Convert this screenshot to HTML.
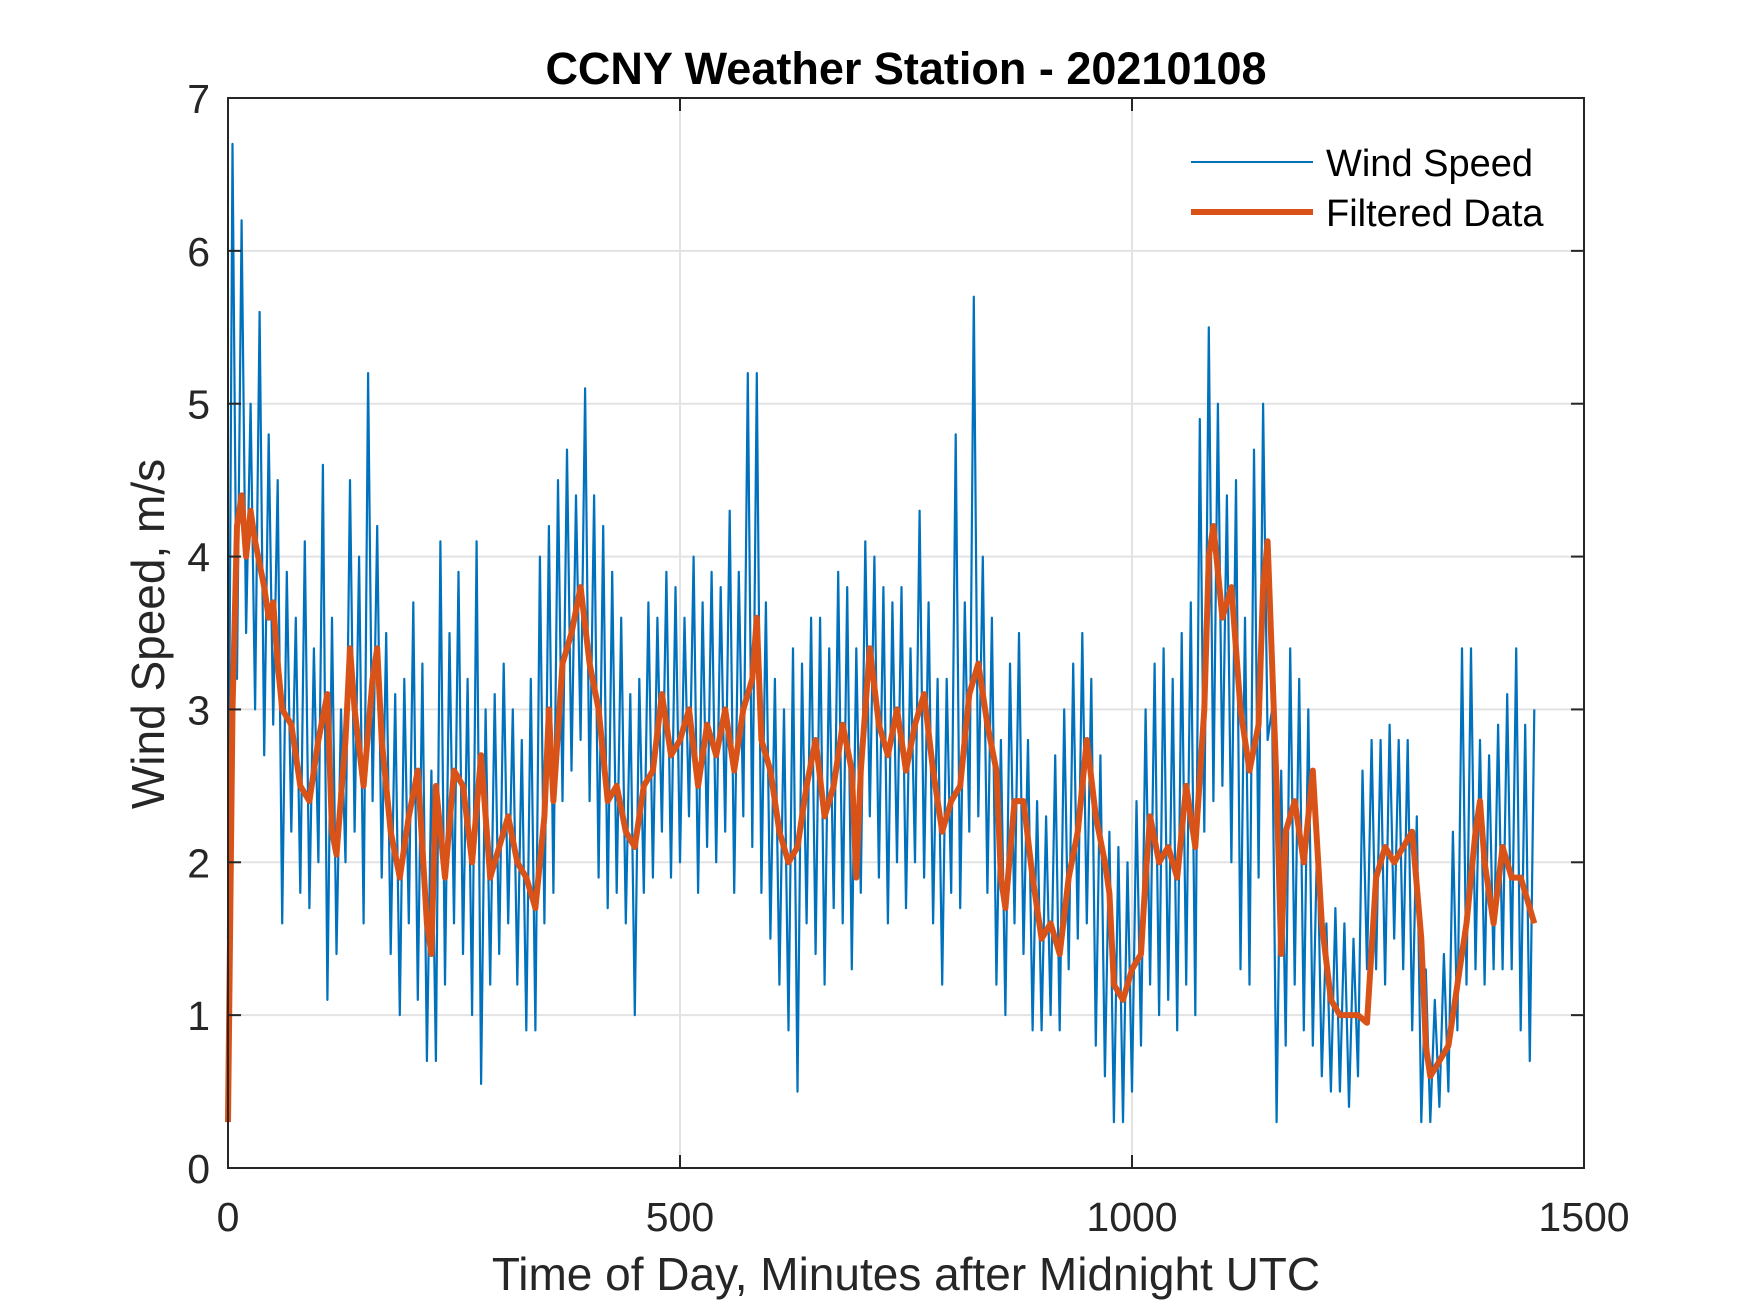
<!DOCTYPE html>
<html><head><meta charset="utf-8"><style>
html,body{margin:0;padding:0;background:#fff;}
svg{display:block;font-family:"Liberation Sans",Arial,sans-serif;}
</style></head><body>
<svg id="chart" width="1750" height="1313" viewBox="0 0 1750 1313" xmlns="http://www.w3.org/2000/svg">
<rect width="1750" height="1313" fill="#fff"/>
<g id="grid"></g>
<g id="series"></g>
<g id="axes"></g>
<text x="906" y="84" text-anchor="middle" font-size="45" font-weight="bold" fill="#000">CCNY Weather Station - 20210108</text>
<text x="906" y="1290" text-anchor="middle" font-size="46" fill="#262626">Time of Day, Minutes after Midnight UTC</text>
<text x="0" y="0" transform="translate(164,634) rotate(-90)" text-anchor="middle" font-size="46" fill="#262626">Wind Speed, m/s</text>
<g>
<line x1="1191" y1="162" x2="1313" y2="162" stroke="#0072BD" stroke-width="2"/>
<text x="1326" y="176" font-size="38" fill="#000">Wind Speed</text>
<line x1="1191" y1="212" x2="1313" y2="212" stroke="#D95319" stroke-width="6"/>
<text x="1326" y="226" font-size="38" fill="#000">Filtered Data</text>
</g>
</svg>
<script>
const xTicks = [0, 500, 1000, 1500];
const yTicks = [0, 1, 2, 3, 4, 5, 6, 7];
const windStep = 5;
const windSpeed = [1.5,6.7,3.2,6.2,3.5,5.0,3.0,5.6,2.7,4.8,2.9,4.5,1.6,3.9,2.2,3.6,1.8,4.1,1.7,3.4,2.0,4.6,1.1,3.6,1.4,3.0,2.0,4.5,2.2,4.0,1.6,5.2,2.4,4.2,1.9,3.5,1.4,3.1,1.0,3.2,1.6,3.7,1.1,3.3,0.7,2.6,0.7,4.1,1.2,3.5,1.6,3.9,1.4,3.2,1.0,4.1,0.55,3.0,1.2,3.1,1.4,3.3,1.6,3.0,1.2,2.8,0.9,3.2,0.9,4.0,1.6,4.2,1.8,4.5,2.4,4.7,2.6,4.4,2.8,5.1,2.4,4.4,1.9,4.2,1.7,3.9,1.8,3.6,1.6,3.1,1.0,3.2,1.8,3.7,1.9,3.6,2.2,3.9,1.9,3.8,2.0,3.6,2.3,4.0,1.8,3.7,2.1,3.9,2.0,3.8,2.2,4.3,1.8,3.9,2.3,5.2,2.1,5.2,1.8,3.7,1.5,3.2,1.2,3.0,0.9,3.4,0.5,3.3,1.6,3.6,1.4,3.6,1.2,3.4,1.7,3.9,1.6,3.8,1.3,3.4,1.8,4.1,2.3,4.0,1.9,3.8,1.6,3.7,2.0,3.8,1.7,3.4,2.0,4.3,1.9,3.7,1.6,3.2,1.2,3.2,1.8,4.8,1.7,3.7,2.2,5.7,2.3,4.0,1.8,3.6,1.2,2.8,1.0,3.3,1.6,3.5,1.4,2.8,0.9,2.4,0.9,2.3,1.0,2.7,0.9,3.0,1.3,3.3,1.5,3.5,1.6,3.2,0.8,2.7,0.6,2.2,0.3,2.1,0.3,2.0,0.5,2.4,0.8,3.0,1.2,3.3,1.0,3.4,1.1,3.2,0.9,3.5,1.2,3.7,1.0,4.9,2.2,5.5,2.4,5.0,2.5,4.4,2.0,4.5,1.3,3.6,1.2,4.7,1.9,5.0,2.8,3.0,0.3,2.6,0.8,3.4,1.2,3.2,0.9,3.0,0.8,2.2,0.6,1.6,0.5,1.7,0.5,1.6,0.4,1.5,0.6,2.6,1.3,2.8,1.3,2.8,1.2,2.9,1.5,2.8,1.3,2.8,0.9,2.3,0.3,1.3,0.3,1.1,0.4,1.4,0.5,2.2,0.9,3.4,1.2,3.4,1.3,2.8,1.2,2.7,1.3,2.9,1.3,3.1,1.3,3.4,0.9,2.9,0.7,3.0];
const filtTime = [0,5,10,15,20,25,30,40,45,50,55,60,70,80,90,100,110,115,120,130,135,140,150,160,165,170,180,190,200,210,220,225,230,240,250,260,270,280,290,300,310,320,330,340,350,355,360,370,380,390,400,410,420,430,440,450,460,470,480,490,500,510,520,530,540,550,560,570,580,585,590,600,610,620,630,640,650,660,670,680,690,695,700,710,720,730,740,750,760,770,780,790,800,810,820,830,840,850,855,860,870,880,890,900,910,920,930,940,950,960,970,975,980,990,1000,1010,1015,1020,1030,1040,1050,1060,1070,1080,1085,1090,1100,1110,1120,1130,1140,1145,1150,1160,1165,1170,1180,1190,1200,1210,1220,1230,1240,1250,1260,1270,1280,1290,1300,1310,1320,1325,1330,1340,1350,1360,1370,1380,1385,1390,1400,1410,1420,1430,1440,1445];
const filtVal = [0.3,3.0,4.2,4.4,4.0,4.3,4.1,3.8,3.6,3.7,3.3,3.0,2.9,2.5,2.4,2.8,3.1,2.2,2.05,2.8,3.4,3.0,2.5,3.2,3.4,2.8,2.2,1.9,2.3,2.6,1.6,1.4,2.5,1.9,2.6,2.5,2.0,2.7,1.9,2.1,2.3,2.0,1.9,1.7,2.3,3.0,2.4,3.3,3.5,3.8,3.3,3.0,2.4,2.5,2.2,2.1,2.5,2.6,3.1,2.7,2.8,3.0,2.5,2.9,2.7,3.0,2.6,3.0,3.2,3.6,2.8,2.6,2.2,2.0,2.1,2.5,2.8,2.3,2.5,2.9,2.6,1.9,2.6,3.4,2.9,2.7,3.0,2.6,2.9,3.1,2.6,2.2,2.4,2.5,3.1,3.3,2.9,2.6,1.9,1.7,2.4,2.4,1.9,1.5,1.6,1.4,1.9,2.2,2.8,2.3,2.0,1.8,1.2,1.1,1.3,1.4,1.9,2.3,2.0,2.1,1.9,2.5,2.1,3.0,4.0,4.2,3.6,3.8,3.0,2.6,2.9,3.8,4.1,2.5,1.4,2.2,2.4,2.0,2.6,1.6,1.1,1.0,1.0,1.0,0.95,1.9,2.1,2.0,2.1,2.2,1.5,0.8,0.6,0.7,0.8,1.2,1.6,2.2,2.4,2.0,1.6,2.1,1.9,1.9,1.7,1.6];

const L=228,R=1584,T=98,B=1168;
const xs = v => L + (v - 0) / 1500 * (R - L);
const ys = v => B - (v - 0) / 7 * (B - T);
const NS="http://www.w3.org/2000/svg";
function mk(tag, attrs, parent){const e=document.createElementNS(NS,tag);for(const k in attrs)e.setAttribute(k,attrs[k]);parent.appendChild(e);return e;}
const grid=document.getElementById('grid'), axes=document.getElementById('axes'), series=document.getElementById('series');

xTicks.forEach(t=>{
  const x=xs(t);
  if(t>0&&t<1500){const g=mk('line',{x1:x,y1:T,x2:x,y2:B,stroke:'#e3e3e3','stroke-width':2},grid);
  
  }
  mk('line',{x1:x,y1:B,x2:x,y2:B-13,stroke:'#262626','stroke-width':2},axes);
  mk('line',{x1:x,y1:T,x2:x,y2:T+13,stroke:'#262626','stroke-width':2},axes);
  const lb=mk('text',{x:x,y:1231,'text-anchor':'middle','font-size':41,fill:'#262626'},axes);
  lb.textContent=t;
  
  
});
yTicks.forEach(t=>{
  const y=ys(t);
  if(t>0&&t<7){const g=mk('line',{x1:L,y1:y,x2:R,y2:y,stroke:'#e3e3e3','stroke-width':2},grid);
  
  }
  mk('line',{x1:L,y1:y,x2:L+13,y2:y,stroke:'#262626','stroke-width':2},axes);
  mk('line',{x1:R,y1:y,x2:R-13,y2:y,stroke:'#262626','stroke-width':2},axes);
  const lb=mk('text',{x:210,y:y+15,'text-anchor':'end','font-size':41,fill:'#262626'},axes);
  lb.textContent=t;
  
  
});
const box=mk('rect',{x:L,y:T,width:R-L,height:B-T,fill:'none',stroke:'#262626','stroke-width':2},axes);



const wp=windSpeed.map((v,i)=>xs(i*windStep).toFixed(1)+','+ys(v).toFixed(1)).join(' ');
const wl=mk('polyline',{points:wp,fill:'none',stroke:'#0072BD','stroke-width':2.2,'stroke-linejoin':'round'},series);


const fp=filtVal.map((v,i)=>xs(filtTime[i]).toFixed(1)+','+ys(v).toFixed(1)).join(' ');
const fl=mk('polyline',{points:fp,fill:'none',stroke:'#D95319','stroke-width':6,'stroke-linejoin':'round'},series);


</script>
</body></html>
